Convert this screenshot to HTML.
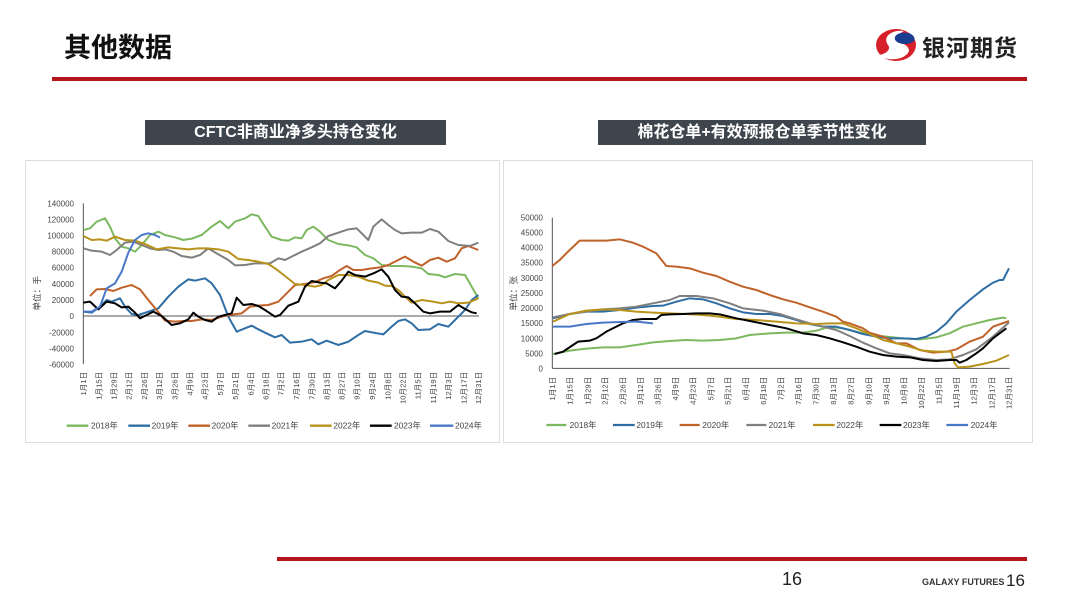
<!DOCTYPE html>
<html><head><meta charset="utf-8"><style>
body{margin:0;width:1080px;height:608px;background:#fff;overflow:hidden;position:relative;font-family:"Liberation Sans","Noto Sans CJK SC",sans-serif}
.abs{position:absolute}
</style></head><body>
<div class="abs" style="left:64px;top:26px;font-size:27px;font-weight:bold;color:#111;font-family:'Noto Sans CJK SC',sans-serif">其他数据</div>
<div class="abs" style="left:52px;top:77px;width:975px;height:4px;background:#b8141b"></div>
<svg class="abs" style="left:874px;top:27px" width="44" height="36" viewBox="0 0 44 36">
<ellipse cx="22" cy="18" rx="20" ry="16" fill="#d7202a"/>
<path d="M30 4 C18 2 8 10 14 18 C18 23 10 28 4 28 C12 34 28 34 34 26 C38 20 28 16 24 14 C20 11 26 6 30 4Z" fill="#fff"/>
<path d="M34 6 C24 4 18 10 22 14 C26 18 36 18 40 14 C42 10 38 7 34 6Z" fill="#1b3d8f"/>
</svg>
<div class="abs" style="left:922px;top:29px;font-size:23px;font-weight:bold;color:#222;font-family:'Noto Sans CJK SC',sans-serif;letter-spacing:1px">银河期货</div>

<div class="abs" style="left:145px;top:120px;width:301px;height:25px;background:#3e454c;color:#fff;font-weight:bold;font-size:16px;line-height:25px;text-align:center">CFTC非商业净多头持仓变化</div>
<div class="abs" style="left:598px;top:120px;width:328px;height:25px;background:#3e454c;color:#fff;font-weight:bold;font-size:16px;line-height:25px;text-align:center">棉花仓单+有效预报仓单季节性变化</div>

<div class="abs" style="left:25px;top:160px;width:473px;height:281px;border:1px solid #ddd"></div>
<div class="abs" style="left:503px;top:160px;width:528px;height:281px;border:1px solid #ddd"></div>

<svg class="abs" style="left:0;top:0" width="1080" height="608">
<g transform="translate(25,160) scale(0.33333)" fill="none" stroke-width="6" stroke-linejoin="round">
<g font-size="24" fill="#444" stroke="none" text-anchor="end">
<text x="147" y="139">140000</text><text x="147" y="187">120000</text><text x="147" y="236">100000</text><text x="147" y="284">80000</text><text x="147" y="332">60000</text><text x="147" y="381">40000</text><text x="147" y="429">20000</text><text x="147" y="477">0</text><text x="147" y="526">-20000</text><text x="147" y="574">-40000</text><text x="147" y="622">-60000</text>
<text transform="translate(45,400) rotate(-90)" text-anchor="middle" font-size="26">单位：手</text>
</g>
<line x1="175" y1="130" x2="175" y2="612" stroke="#555" stroke-width="3"/>
<line x1="175" y1="468" x2="1362" y2="468" stroke="#555" stroke-width="3"/>
<g font-size="23" fill="#444" stroke="none" text-anchor="end" id="lt">
<text transform="translate(183,635) rotate(-90)">1月1日</text><text transform="translate(229,635) rotate(-90)">1月15日</text><text transform="translate(274,635) rotate(-90)">1月29日</text><text transform="translate(320,635) rotate(-90)">2月12日</text><text transform="translate(366,635) rotate(-90)">2月26日</text><text transform="translate(411,635) rotate(-90)">3月12日</text><text transform="translate(457,635) rotate(-90)">3月26日</text><text transform="translate(502,635) rotate(-90)">4月9日</text><text transform="translate(548,635) rotate(-90)">4月23日</text><text transform="translate(594,635) rotate(-90)">5月7日</text><text transform="translate(639,635) rotate(-90)">5月21日</text><text transform="translate(685,635) rotate(-90)">6月4日</text><text transform="translate(731,635) rotate(-90)">6月18日</text><text transform="translate(776,635) rotate(-90)">7月2日</text><text transform="translate(822,635) rotate(-90)">7月16日</text><text transform="translate(868,635) rotate(-90)">7月30日</text><text transform="translate(913,635) rotate(-90)">8月13日</text><text transform="translate(959,635) rotate(-90)">8月27日</text><text transform="translate(1004,635) rotate(-90)">9月10日</text><text transform="translate(1050,635) rotate(-90)">9月24日</text><text transform="translate(1096,635) rotate(-90)">10月8日</text><text transform="translate(1141,635) rotate(-90)">10月22日</text><text transform="translate(1187,635) rotate(-90)">11月5日</text><text transform="translate(1233,635) rotate(-90)">11月19日</text><text transform="translate(1278,635) rotate(-90)">12月3日</text><text transform="translate(1324,635) rotate(-90)">12月17日</text><text transform="translate(1368,635) rotate(-90)">12月31日</text>
</g>
<polyline stroke="#7cb85f" points="175,210 195,205 215,185 240,175 255,200 270,235 290,260 310,265 330,275 350,255 375,225 400,215 420,225 450,232 475,240 500,236 530,225 560,200 585,183 610,205 630,185 660,175 680,163 700,168 720,200 740,230 770,240 790,242 810,232 830,235 845,210 865,200 885,215 910,240 940,252 970,256 995,262 1020,285 1045,295 1070,315 1100,318 1130,318 1160,320 1190,325 1210,342 1240,345 1260,352 1290,342 1320,345 1340,380 1360,415"/>
<polyline stroke="#2f6ea5" points="175,455 200,458 225,440 245,420 260,425 285,415 300,440 320,462 340,465 370,455 400,445 430,410 460,380 490,358 510,362 540,355 560,370 585,405 610,470 635,515 660,505 680,497 700,508 720,518 750,532 770,525 795,548 830,545 860,538 880,553 905,542 940,555 970,545 1000,525 1020,513 1045,518 1075,523 1100,500 1120,483 1140,478 1160,490 1180,510 1215,508 1240,492 1270,500 1300,470 1320,450 1340,420 1360,405"/>
<polyline stroke="#c0622a" points="195,408 215,388 240,387 265,393 290,383 320,375 345,388 370,420 395,450 420,482 450,485 475,483 500,483 530,478 560,480 590,470 625,463 650,460 675,440 700,437 730,435 760,425 785,400 810,375 840,372 870,366 895,355 920,348 945,330 965,318 985,330 1010,330 1040,325 1065,322 1090,315 1110,305 1140,290 1165,305 1190,317 1215,300 1240,293 1265,305 1290,295 1310,265 1330,258 1360,270"/>
<polyline stroke="#7f7f7f" points="175,265 200,272 230,275 255,285 275,270 300,248 325,245 350,255 375,265 400,270 420,268 445,275 470,288 500,293 525,285 550,265 575,280 610,300 630,316 660,315 690,310 710,310 735,310 760,295 780,300 800,290 830,275 860,262 885,250 910,228 940,218 970,208 995,205 1010,220 1030,240 1045,200 1070,178 1090,195 1110,210 1130,220 1160,218 1190,218 1215,207 1240,215 1270,243 1300,255 1335,258 1360,248"/>
<polyline stroke="#b8921a" points="175,228 200,240 225,238 245,242 270,230 300,240 330,242 360,252 395,268 430,262 460,265 490,268 520,265 545,265 580,268 610,275 640,297 670,300 700,305 730,312 750,325 780,348 810,372 840,375 870,380 890,375 910,360 940,345 970,345 1000,350 1030,362 1060,368 1080,377 1100,378 1120,390 1140,410 1160,428 1190,420 1220,424 1250,430 1275,425 1300,430 1330,428 1360,415"/>
<polyline stroke="#000" points="175,428 195,425 220,448 245,425 270,430 290,442 310,440 330,458 345,475 365,465 385,455 410,468 440,495 465,490 490,478 505,458 520,470 540,480 560,485 580,470 600,465 620,460 635,413 655,435 680,432 700,438 720,450 735,460 750,470 765,465 790,437 820,425 840,380 860,363 885,368 905,370 930,385 950,362 970,335 990,345 1020,350 1050,338 1070,328 1090,350 1110,390 1130,410 1150,412 1170,430 1195,455 1215,460 1245,455 1275,455 1300,435 1320,447 1340,457 1355,460"/>
<polyline stroke="#4a78c8" points="175,455 200,455 225,440 245,385 270,370 290,335 310,278 330,240 350,225 370,220 390,225 405,233"/>
<g stroke-width="7">
<line x1="125" y1="797" x2="190" y2="797" stroke="#7cb85f"/><line x1="310" y1="797" x2="375" y2="797" stroke="#2f6ea5"/><line x1="490" y1="797" x2="555" y2="797" stroke="#c0622a"/><line x1="670" y1="797" x2="735" y2="797" stroke="#7f7f7f"/><line x1="855" y1="797" x2="920" y2="797" stroke="#b8921a"/><line x1="1035" y1="797" x2="1100" y2="797" stroke="#000"/><line x1="1215" y1="797" x2="1285" y2="797" stroke="#4a78c8"/>
</g>
<g font-size="25" fill="#444" stroke="none">
<text x="198" y="806">2018年</text><text x="380" y="806">2019年</text><text x="560" y="806">2020年</text><text x="740" y="806">2021年</text><text x="925" y="806">2022年</text><text x="1107" y="806">2023年</text><text x="1290" y="806">2024年</text>
</g>
</g>

<g transform="translate(503,160) scale(0.33333)" fill="none" stroke-width="6" stroke-linejoin="round">
<g font-size="24" fill="#444" stroke="none" text-anchor="end">
<text x="120" y="182">50000</text><text x="120" y="227">45000</text><text x="120" y="272">40000</text><text x="120" y="317">35000</text><text x="120" y="363">30000</text><text x="120" y="408">25000</text><text x="120" y="453">20000</text><text x="120" y="498">15000</text><text x="120" y="544">10000</text><text x="120" y="589">5000</text><text x="120" y="634">0</text>
<text transform="translate(40,400) rotate(-90)" text-anchor="middle" font-size="26">单位：张</text>
</g>
<line x1="148" y1="173" x2="148" y2="625" stroke="#555" stroke-width="3"/>
<line x1="148" y1="625" x2="1520" y2="625" stroke="#555" stroke-width="3"/>
<g font-size="23" fill="#444" stroke="none" text-anchor="end">
<text transform="translate(156,650) rotate(-90)">1月1日</text><text transform="translate(209,650) rotate(-90)">1月15日</text><text transform="translate(262,650) rotate(-90)">1月29日</text><text transform="translate(314,650) rotate(-90)">2月12日</text><text transform="translate(367,650) rotate(-90)">2月26日</text><text transform="translate(420,650) rotate(-90)">3月12日</text><text transform="translate(472,650) rotate(-90)">3月26日</text><text transform="translate(525,650) rotate(-90)">4月9日</text><text transform="translate(578,650) rotate(-90)">4月23日</text><text transform="translate(631,650) rotate(-90)">5月7日</text><text transform="translate(683,650) rotate(-90)">5月21日</text><text transform="translate(736,650) rotate(-90)">6月4日</text><text transform="translate(789,650) rotate(-90)">6月18日</text><text transform="translate(841,650) rotate(-90)">7月2日</text><text transform="translate(894,650) rotate(-90)">7月16日</text><text transform="translate(947,650) rotate(-90)">7月30日</text><text transform="translate(999,650) rotate(-90)">8月13日</text><text transform="translate(1052,650) rotate(-90)">8月27日</text><text transform="translate(1105,650) rotate(-90)">9月10日</text><text transform="translate(1158,650) rotate(-90)">9月24日</text><text transform="translate(1210,650) rotate(-90)">10月8日</text><text transform="translate(1263,650) rotate(-90)">10月22日</text><text transform="translate(1316,650) rotate(-90)">11月5日</text><text transform="translate(1368,650) rotate(-90)">11月19日</text><text transform="translate(1421,650) rotate(-90)">12月3日</text><text transform="translate(1474,650) rotate(-90)">12月17日</text><text transform="translate(1526,650) rotate(-90)">12月31日</text>
</g>
<polyline stroke="#7cb85f" points="150,582 200,572 250,566 300,562 350,562 400,555 450,547 500,543 550,540 600,542 650,540 700,535 740,525 800,520 850,518 900,518 940,512 980,500 1020,505 1060,515 1100,525 1150,530 1200,535 1250,538 1300,532 1340,520 1380,500 1420,490 1460,480 1500,473 1510,475"/>
<polyline stroke="#2f6ea5" points="150,475 200,462 250,455 300,455 350,450 400,443 450,438 480,437 520,425 560,415 600,418 640,430 680,445 720,457 760,462 800,462 840,468 880,480 920,492 960,500 1000,500 1040,510 1080,522 1120,530 1160,535 1200,535 1240,537 1270,530 1300,515 1330,490 1360,455 1400,420 1440,388 1470,368 1490,360 1500,360 1518,325"/>
<polyline stroke="#c0622a" points="148,318 170,300 200,270 230,242 270,242 310,242 350,238 390,248 420,260 460,280 490,318 520,320 560,325 600,338 640,348 680,365 720,380 760,390 800,405 840,418 880,428 920,442 960,455 1000,470 1020,485 1040,490 1080,505 1100,518 1140,530 1180,550 1210,550 1250,570 1290,578 1330,575 1360,568 1400,545 1440,530 1470,500 1518,483"/>
<polyline stroke="#7f7f7f" points="150,472 200,462 250,455 300,448 350,445 400,440 450,430 500,420 530,408 580,408 630,415 680,430 720,445 780,452 830,462 880,478 920,490 960,500 1000,510 1040,528 1080,548 1120,565 1160,580 1200,585 1250,595 1300,600 1340,598 1380,585 1420,568 1470,530 1518,487"/>
<polyline stroke="#b8921a" points="150,485 200,462 250,452 300,448 350,450 400,455 450,458 500,460 550,462 600,465 650,470 700,477 760,480 820,485 880,490 940,492 980,490 1020,490 1060,505 1100,522 1140,540 1180,550 1220,560 1260,572 1300,575 1345,575 1355,610 1365,622 1400,620 1440,612 1480,602 1518,585"/>
<polyline stroke="#000" points="155,582 180,575 210,555 225,545 260,542 280,535 310,515 340,500 360,490 390,480 420,477 460,477 475,465 500,463 540,462 580,460 620,460 650,463 700,475 750,485 800,495 850,505 900,520 940,525 980,535 1020,547 1060,560 1100,575 1140,585 1180,590 1220,592 1260,600 1300,603 1340,600 1360,600 1370,608 1390,600 1420,580 1440,565 1470,535 1510,505"/>
<polyline stroke="#4a78c8" points="150,500 200,500 250,492 300,488 350,486 400,485 450,490"/>
<g stroke-width="7">
<line x1="130" y1="795" x2="190" y2="795" stroke="#7cb85f"/><line x1="330" y1="795" x2="395" y2="795" stroke="#2f6ea5"/><line x1="530" y1="795" x2="590" y2="795" stroke="#c0622a"/><line x1="730" y1="795" x2="790" y2="795" stroke="#7f7f7f"/><line x1="930" y1="795" x2="995" y2="795" stroke="#b8921a"/><line x1="1130" y1="795" x2="1195" y2="795" stroke="#000"/><line x1="1330" y1="795" x2="1395" y2="795" stroke="#4a78c8"/>
</g>
<g font-size="25" fill="#444" stroke="none">
<text x="200" y="804">2018年</text><text x="400" y="804">2019年</text><text x="598" y="804">2020年</text><text x="797" y="804">2021年</text><text x="1000" y="804">2022年</text><text x="1200" y="804">2023年</text><text x="1403" y="804">2024年</text>
</g>
</g>
</svg>

<div class="abs" style="left:277px;top:557px;width:750px;height:4px;background:#b8141b"></div>
<div class="abs" style="left:782px;top:569px;font-size:18px;color:#222">16</div>
<div class="abs" style="left:922px;top:577px;font-size:9px;font-weight:bold;color:#333">GALAXY FUTURES</div>
<div class="abs" style="left:1006px;top:571px;font-size:17px;color:#222">16</div>
</body></html>
